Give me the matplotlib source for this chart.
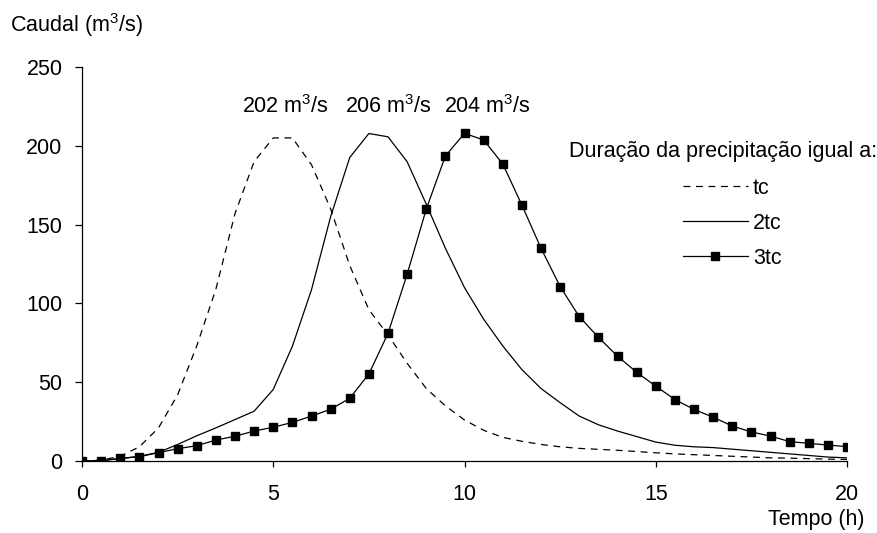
"""Hidrogramas de cheia para diferentes durações da precipitação."""
import matplotlib
matplotlib.use("Agg")
import matplotlib.pyplot as plt
import numpy as np

plt.rcParams["font.family"] = ["Liberation Sans", "DejaVu Sans"]
plt.rcParams["mathtext.fontset"] = "custom"
plt.rcParams["mathtext.rm"] = "Liberation Sans"
plt.rcParams["mathtext.it"] = "Liberation Sans"

# tempo (h), passo de 0.5 h
tempo = np.arange(0, 20.01, 0.5)

caudal_tc = [0, 0.5, 3, 9, 21, 42, 73, 109, 157, 190, 205, 205, 188, 160, 124,
             96, 80, 62, 46, 35, 26, 19.5, 15, 12.5, 10.5, 9, 8, 7.4, 6.8, 6,
             5.2, 4.5, 4, 3.5, 3, 2.5, 2, 1.8, 1.5, 1.2, 1]
caudal_2tc = [0, 0.2, 1.5, 3, 5.5, 10.5, 16, 21, 26.3, 31.6, 45.4, 72.8, 108.7,
              155, 192.6, 207.8, 205.7, 189.9, 163, 135, 110, 90, 73, 58, 46,
              37, 28.5, 23, 19, 15.5, 12, 10, 9, 8.5, 7.5, 6.5, 5.5, 4.5, 3.5,
              2.5, 2]
caudal_3tc = [0, 0.2, 1.7, 2.7, 5.3, 7.8, 9.7, 13.3, 15.7, 19, 21.4, 24.5, 28.5,
              32.8, 39.8, 55.2, 81, 118.5, 159.8, 193.5, 207.9, 203.7, 188.5,
              162.4, 135, 110.7, 91.6, 78.5, 66.5, 56.3, 47.5, 39, 32.7, 27.8,
              22.2, 18.4, 15.8, 12.3, 11.2, 10.1, 9.1]

picos = ["202 m$^{\\mathrm{3}}$/s", "206 m$^{\\mathrm{3}}$/s",
         "204 m$^{\\mathrm{3}}$/s"]
picos_x = [5.33, 8.0, 10.59]
picos_y = [225, 225, 225]

FS = 15.5

fig = plt.figure(figsize=(8.78, 5.33), dpi=100, facecolor="white")
ax = fig.add_axes([0.0934, 0.1351, 0.8713, 0.7392])

ax.plot(tempo, caudal_tc, color="black", lw=0.9, dashes=(5.5, 4.5), label="tc")
ax.plot(tempo, caudal_2tc, color="black", lw=0.9, label="2tc")
ax.plot(tempo, caudal_3tc, color="black", lw=0.9, marker="s", ms=5.5,
        label="3tc")

ax.set_xlim(0, 20)
ax.set_ylim(0, 250)
ax.set_xticks([0, 5, 10, 15, 20])
ax.set_yticks([0, 50, 100, 150, 200, 250])
for side in ("top", "right"):
    ax.spines[side].set_visible(False)
for side in ("left", "bottom"):
    ax.spines[side].set_linewidth(0.9)
ax.tick_params(axis="x", direction="out", length=4.5, width=0.9, pad=12,
               labelsize=FS)
ax.tick_params(axis="y", direction="out", length=5, width=0.9, pad=9,
               labelsize=FS)

for txt, x, y in zip(picos, picos_x, picos_y):
    ax.text(x, y, txt, ha="center", va="center", fontsize=FS)

fig.text(10 / 878, 1 - 25 / 533, "Caudal (m$^{\\mathrm{3}}$/s)", ha="left",
         va="center", fontsize=FS)
fig.text(865 / 878, 1 - 520 / 533, "Tempo (h)", ha="right", va="center",
         fontsize=FS)

fig.text(877 / 878, 1 - 151 / 533, "Duração da precipitação igual a:",
         ha="right", va="center", fontsize=FS)
leg = ax.legend(loc="upper left", bbox_to_anchor=(683 / 878, 1 - 178 / 533),
                bbox_transform=fig.transFigure, frameon=False, fontsize=FS,
                handlelength=3.0, handletextpad=0.25, labelspacing=0.65,
                borderaxespad=0, borderpad=0)

fig.savefig("out.png", dpi=100, facecolor="white")
